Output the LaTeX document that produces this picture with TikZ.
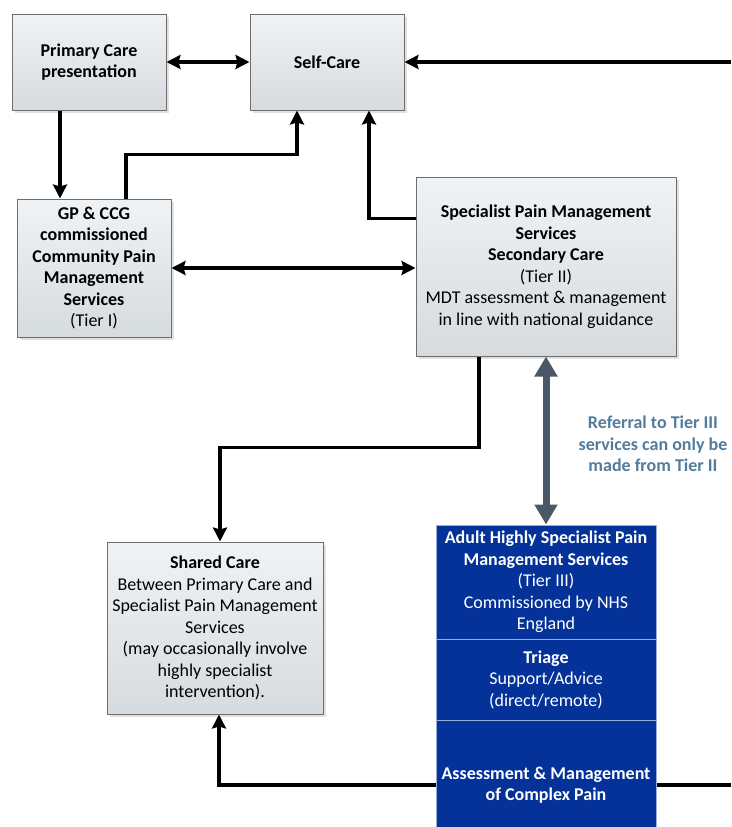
\documentclass[tikz,border=0pt]{standalone}
\usepackage{fontspec}
\setmainfont{Carlito}
\usepackage{tikz}
\usetikzlibrary{arrows.meta,calc,positioning,shadows}

\definecolor{boxtop}{RGB}{240,243,245}
\definecolor{boxbot}{RGB}{214,219,223}
\definecolor{boxline}{RGB}{110,110,110}
\definecolor{tierblue}{RGB}{4,50,152}
\definecolor{tierline}{RGB}{150,175,220}
\definecolor{refgrey}{RGB}{74,88,102}
\definecolor{notecol}{RGB}{82,124,156}

\begin{document}
\begin{tikzpicture}[
      x=1pt, y=-1pt,
      every node/.style={font=\fontsize{18}{21.5}\selectfont},
      box/.style={draw=boxline, line width=1pt, top color=boxtop, bottom color=boxbot,
        align=center, inner sep=3pt,
        drop shadow={shadow xshift=3pt, shadow yshift=-3pt, fill=black!20, opacity=.6}},
      tierbox/.style={draw=tierline, line width=1pt, fill=tierblue, text=white,
        align=center, minimum width=220pt, inner sep=2pt},
      arrow/.style={-{Stealth[length=14pt, width=14pt, inset=2pt]}, line width=3.5pt, draw=black},
      biarrow/.style={arrow, {Stealth[length=14pt, width=14pt, inset=2pt]}-{Stealth[length=14pt, width=14pt, inset=2pt]}},
      refarrow/.style={{Triangle[length=20pt, width=22pt]}-{Triangle[length=20pt, width=22pt]},
        line width=7pt, draw=refgrey}
    ]
    \clip (0,0) rectangle (731,827);

    \node[box, minimum width=154pt, minimum height=96pt] (pc) at (89,62)
      {\textbf{Primary Care}\\\textbf{presentation}};
    \node[box, minimum width=154pt, minimum height=96pt] (self) at (327,62)
      {\textbf{Self-Care}};
    \node[box, minimum width=154pt, minimum height=138pt] (gp) at (94,268)
      {\textbf{GP \& CCG}\\\textbf{commissioned}\\\textbf{Community Pain}\\
       \textbf{Management}\\\textbf{Services}\\(Tier I)};
    \node[box, minimum width=260pt, minimum height=179pt] (spec) at (546,266.5)
      {\textbf{Specialist Pain Management}\\\textbf{Services}\\\textbf{Secondary Care}\\
       (Tier II)\\MDT assessment \& management\\in line with national guidance};
    \node[box, minimum width=216pt, minimum height=172pt] (shared) at (215,628)
      {\textbf{Shared Care}\\Between Primary Care and\\Specialist Pain Management\\Services\\
       (may occasionally involve\\highly specialist\\intervention).};

    \node[tierbox, minimum height=114pt] (tier) at (546,582)
      {\textbf{Adult Highly Specialist Pain}\\\textbf{Management Services}\\(Tier III)\\
       Commissioned by NHS\\England};
    \node[tierbox, minimum height=81pt] (triage) at (546,679.5)
      {\textbf{Triage}\\Support/Advice\\(direct/remote)};
    \node[tierbox, minimum height=130pt] (assess) at (546,785)
      {\textbf{Assessment \& Management}\\\textbf{of Complex Pain}};

    \node[text=notecol, align=center] (note) at (653,444)
      {\textbf{Referral to Tier III}\\\textbf{services can only be}\\\textbf{made from Tier II}};

    \coordinate (selfin) at (731,62);
    \coordinate (assessout) at (731,785);

    \draw[biarrow] (pc) -- (self);
    \draw[arrow] (selfin) -- (self);
    \draw[arrow] ([xshift=-29pt]pc.south) -- ([xshift=-29pt]pc.south |- gp.north);
    \draw[arrow] ([xshift=32pt]gp.north) -- ++(0,-44) -| ([xshift=-30pt]self.south);
    \draw[arrow] ([yshift=48pt]spec.west) -| ([xshift=42pt]self.south);
    \draw[biarrow] (gp.east) -- (gp.east -| spec.west);
    \draw[arrow] ([xshift=-67pt]spec.south) -- ++(0,91) -| ([xshift=5pt]shared.north);
    \draw[refarrow] (spec.south) -- (tier.north);
    \draw[arrow] (assess.west) -| ([xshift=4pt]shared.south);
    \draw[line width=3.5pt] (assess.east) -- (assessout);
  \end{tikzpicture}
\end{document}
